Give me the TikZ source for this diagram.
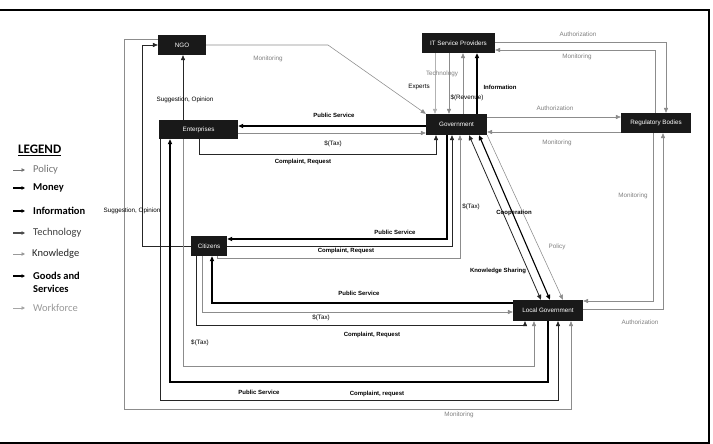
\documentclass[tikz,border=0pt]{standalone}
\usepackage{fontspec}
\setmainfont{Liberation Sans}
\newfontfamily\legfont{Carlito}
\usetikzlibrary{arrows.meta,calc}
\begin{document}
\begin{tikzpicture}[x=1pt,y=-1pt,
  box/.style={fill=black!90,text=white,font=\fontsize{6.3}{7}\selectfont,inner sep=0pt,minimum height=20pt},
  tip/.style={-{Triangle[length=5pt,width=4.2pt]}},
  tips/.style={{Triangle[length=5pt,width=4.2pt]}-{Triangle[length=5pt,width=4.2pt]}},
  ps/.style={draw=black,line width=1.1pt},
  blk/.style={draw=black!85,line width=0.6pt},
  gry/.style={draw=black!45,line width=0.55pt},
  lgry/.style={draw=black!30,line width=0.55pt},
  lab/.style={font=\fontsize{6.3}{7}\selectfont,inner sep=0pt},
  blab/.style={font=\bfseries\fontsize{6}{7}\selectfont,inner sep=0pt},
  glab/.style={lab,text=black!50},
  legtxt/.style={anchor=west,inner sep=0pt,font=\legfont\fontsize{10.5}{12.5}\selectfont,align=left},
  legar/.style={-{Triangle[length=3.5pt,width=3.5pt]}}
]
\useasboundingbox (0,0) rectangle (713,444);
\fill[white] (0,0) rectangle (713,444);
% frame
\draw[line width=1.3pt] (0,10) -- (709,10) -- (709,443) -- (0,443);

% nodes
\node[box,minimum width=48pt] (ngo) at (182,45) {NGO};
\node[box,minimum width=79pt,minimum height=19pt] (ent) at (198.5,129.5) {Enterprises};
\node[box,minimum width=73pt] (it) at (458.5,43) {IT Service Providers};
\node[box,minimum width=61pt,minimum height=21pt] (gov) at (456.5,124.5) {Government};
\node[box,minimum width=70pt] (reg) at (656,123) {Regulatory Bodies};
\node[box,minimum width=36pt] (cit) at (209,246) {Citizens};
\node[box,minimum width=70pt,minimum height=21pt] (lg) at (548,310.5) {Local Government};

% legend
\node[anchor=west,inner sep=0pt,font=\legfont\bfseries\fontsize{13}{14}\selectfont] (legend) at (18,150) {\underline{LEGEND}};
\draw[legar,black!55,line width=1pt] (13,170) -- (25,170);
\node[legtxt,text=black!55] (lpol) at (33,170) {Policy};
\draw[legar,black,line width=1.4pt] (13,188) -- (25,188);
\node[legtxt,font=\legfont\bfseries\fontsize{10.5}{12.5}\selectfont] (lmon) at (33,188) {Money};
\draw[legar,black,line width=1.4pt] (13,211) -- (25,211);
\node[legtxt,font=\legfont\bfseries\fontsize{10.5}{12.5}\selectfont] (linf) at (33,211) {Information};
\draw[legar,black!70,line width=1.1pt] (13,233) -- (25,233);
\node[legtxt,text=black!75] (ltec) at (33,233) {Technology};
\draw[legar,black!40,line width=1pt] (13,254) -- (25,254);
\node[legtxt,text=black!85] (lkno) at (32,254) {Knowledge};
\draw[legar,black,line width=1.3pt] (13,276) -- (25,276);
\node[legtxt,font=\legfont\bfseries\fontsize{10.5}{12.5}\selectfont] (lgoo) at (33,282.5) {Goods and\\Services};
\draw[legar,black!35,line width=1pt] (13,308) -- (25,308);
\node[legtxt,text=black!40] (lwor) at (33,308) {Workforce};

% NGO monitoring
\draw[gry,tip] (ngo.west |- 0,39) -- (124,39) -- (124,409) -- (571,409) -- (571,0 |- lg.south);
\node[glab] (l1) at (459,415) {Monitoring};
\draw[gry,tip] (ngo.east |- 0,45) -- (328,45) -- (gov.north west);
\node[glab] (l2) at (268,59) {Monitoring};

% suggestions
\draw[blk,tip] (cit.west |- 0,246) -- (142,246) -- (142,45) -- (ngo.west);
\node[lab] (l3) at (132,211) {Suggestion, Opinion};
\draw[blk,tip] (183,0 |- ent.north) -- (183,0 |- ngo.south);
\node[lab] (l4) at (185,100) {Suggestion, Opinion};

% Government - Enterprises
\draw[ps,tip] (gov.west |- 0,126) -- (ent.east |- 0,126);
\node[blab] (l5) at (334,115) {Public Service};
\draw[gry,tip] (ent.east |- 0,133) -- (gov.west |- 0,133);
\node[lab] (l6) at (333,144) {\$(Tax)};
\draw[blk,tip] (199,0 |- ent.south) -- (199,154) -- (436,154) -- (436,0 |- gov.south);
\node[blab] (l7) at (303,162) {Complaint, Request};

% Government - Citizens
\draw[ps,tip] (447,0 |- gov.south) -- (447,239) -- (cit.east |- 0,239);
\node[blab] (l8) at (395,232) {Public Service};
\draw[blk,tip] (cit.east |- 0,246) -- (452,246) -- (452,0 |- gov.south);
\node[blab] (l9) at (346,251) {Complaint, Request};
\draw[gry,tip] (217,0 |- cit.south) -- (217,258) -- (460,258) -- (460,0 |- gov.south);
\node[lab] (l10) at (471,207) {\$(Tax)};

% Local Government - Citizens
\draw[ps,tip] (lg.west |- 0,303) -- (212,303) -- (212,0 |- cit.south);
\node[blab] (l11) at (359,293) {Public Service};
\draw[gry,tip] (202,0 |- cit.south) -- (202,312) -- (lg.west |- 0,312);
\node[lab] (l12) at (321,318) {\$(Tax)};
\draw[blk,tip] (196,0 |- cit.south) -- (196,325) -- (525,325) -- (525,0 |- lg.south);
\node[blab] (l13) at (372,335) {Complaint, Request};

% Local Government - Enterprises
\draw[gry,tip] (183,0 |- ent.south) -- (183,366) -- (534,366) -- (534,0 |- lg.south);
\node[lab] (l14) at (200,343) {\$(Tax)};
\draw[ps,tip] (548,0 |- lg.south) -- (548,382) -- (170,382) -- (170,0 |- ent.south);
\node[blab] (l15) at (259,392) {Public Service};
\draw[blk,tip] (160,0 |- ent.south) -- (160,400) -- (558,400) -- (558,0 |- lg.south);
\node[blab] (l16) at (377,394) {Complaint, request};

% IT - Government
\draw[lgry,tip] (435,0 |- it.south) -- (435,0 |- gov.north);
\node[lab] (l17) at (419,87) {Experts};
\draw[gry,tip] (449,0 |- it.south) -- (449,0 |- gov.north);
\node[glab] (l18) at (442,74) {Technology};
\draw[gry,tip] (463,0 |- gov.north) -- (463,0 |- it.south);
\node[lab] (l19) at (467,98) {\$(Revenue)};
\draw[ps,line width=1.3pt,tip] (477,0 |- gov.north) -- (477,0 |- it.south);
\node[blab] (l20) at (500,87) {Information};

% Government - Regulatory
\draw[gry,tip] (gov.east |- 0,117) -- (reg.west |- 0,117);
\node[glab] (l21) at (555,108) {Authorization};
\draw[gry,tip] (reg.west |- 0,132) -- (gov.east |- 0,132);
\node[glab] (l22) at (557,143) {Monitoring};

% IT - Regulatory
\draw[gry,tip] (it.east |- 0,42) -- (666,42) -- (666,0 |- reg.north);
\node[glab] (l23) at (578,34) {Authorization};
\draw[gry,tip] (655,0 |- reg.north) -- (655,50) -- (it.east |- 0,50);
\node[glab] (l24) at (577,57) {Monitoring};

% Regulatory - Local Government
\draw[gry,tip] (653,0 |- reg.south) -- (653,301) -- (lg.east |- 0,301);
\node[glab] (l25) at (633,196) {Monitoring};
\draw[gry,tip] (lg.east |- 0,309) -- (663,309) -- (663,0 |- reg.south);
\node[glab] (l26) at (640,322) {Authorization};

% Government - Local Government diagonals
\draw[blk,line width=0.8pt,tips] (469,0 |- gov.south) -- (541,0 |- lg.north);
\node[blab] (l27) at (498,271) {Knowledge Sharing};
\draw[ps,tips] (479,0 |- gov.south) -- (550,0 |- lg.north);
\node[blab] (l28) at (514,213) {Cooperation};
\draw[gry,tip] (gov.south east) -- (563,0 |- lg.north);
\node[glab] (l29) at (557,247) {Policy};
\end{tikzpicture}
\end{document}
